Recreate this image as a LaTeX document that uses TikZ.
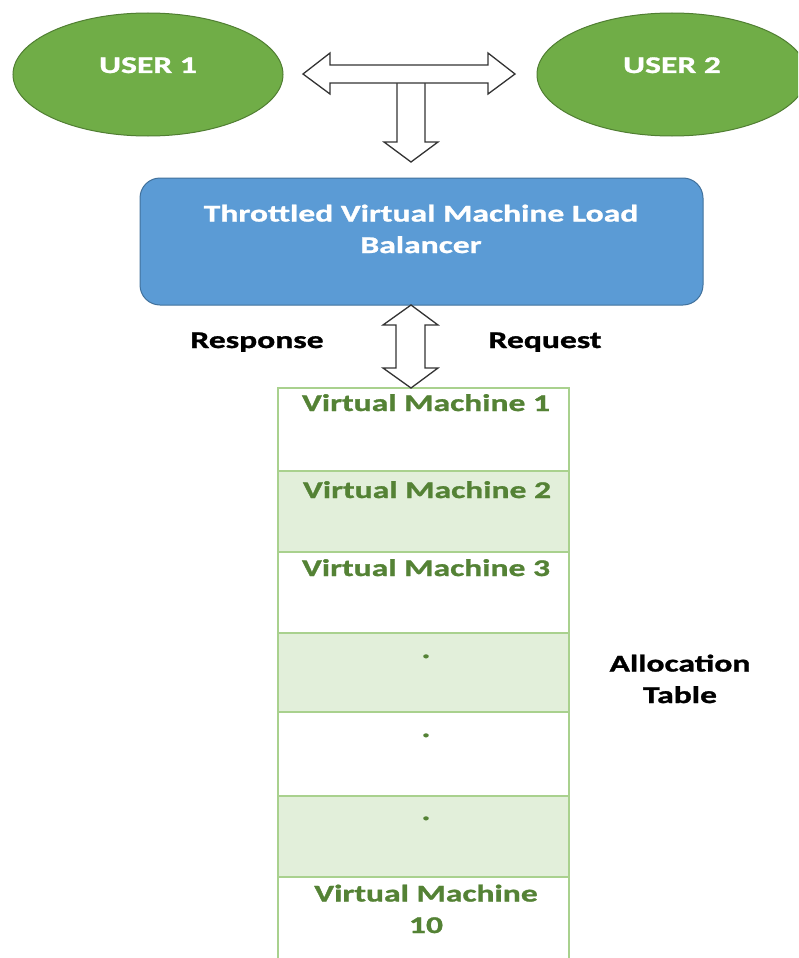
\documentclass[tikz,border=0pt]{standalone}
\usepackage{fontspec}
\newfontfamily\lbl{Carlito}[FakeStretch=1.4,FakeBold=1.2]
\usetikzlibrary{shapes.geometric}
\definecolor{usergreen}{HTML}{70AD47}
\definecolor{userborder}{HTML}{507E32}
\definecolor{lbblue}{HTML}{5B9BD5}
\definecolor{lbborder}{HTML}{41719C}
\definecolor{vmtext}{HTML}{548235}
\definecolor{vmborder}{HTML}{A9D18E}
\definecolor{vmfill}{HTML}{E2EFDA}
\definecolor{arrowline}{HTML}{333333}
\begin{document}
\begin{tikzpicture}[x=1pt,y=-1pt,
 txt/.style={font=\lbl\bfseries\fontsize{24}{31.5}\selectfont, inner sep=0pt, align=center},
 user/.style={ellipse, draw=userborder, line width=1pt, fill=usergreen, minimum width=270pt, minimum height=123pt, txt, text=white, text height=16pt, text depth=19pt},
 lbbox/.style={draw=lbborder, fill=lbblue, line width=1pt, rounded corners=20pt, minimum width=563pt, minimum height=127pt},
 row/.style={draw=vmborder, line width=2pt, minimum width=291pt, inner sep=0pt},
 shaded/.style={fill=vmfill},
 vm/.style={txt, text=vmtext, anchor=base},
 plain/.style={txt, text=black, anchor=base},
 blockarrow/.style={draw=arrowline, fill=white, line width=1.3pt, line join=miter},
]
\useasboundingbox (0,0) rectangle (798,958);
\clip (0,0) rectangle (798,958);

% users
\node[user] (u1) at (148,74.5) {USER 1};
\node[user] (u2) at (672,74.5) {USER 2};

% T-shaped block arrow
\draw[blockarrow] (397,80) -- (397,142) -- (384,142) -- (411,162) -- (438,142) -- (425,142) -- (425,80) -- cycle;
\draw[blockarrow] (303,74) -- (330,53) -- (330,65) -- (488,65) -- (488,53) -- (515,74) -- (488,94) -- (488,83) -- (330,83) -- (330,94) -- cycle;

% load balancer
\node[lbbox] (lb) at (421.5,241.5) {};
\node[txt, text=white, anchor=base] (lbt) at (421,253) {Throttled Virtual Machine Load\\Balancer};

% labels
\node[plain] (resp) at (257,348) {Response};
\node[plain] (req) at (545,348) {Request};

% allocation table rows
\node[row, minimum height=83pt] (r1) at (423.5,429.5) {};
\node[row, shaded, minimum height=81pt] (r2) at (423.5,511.5) {};
\node[row, minimum height=81pt] (r3) at (423.5,592.5) {};
\node[row, shaded, minimum height=79pt] (r4) at (423.5,672.5) {};
\node[row, minimum height=84pt] (r5) at (423.5,754) {};
\node[row, shaded, minimum height=81pt] (r6) at (423.5,836.5) {};
\node[row, minimum height=85pt] (r7) at (423.5,919.5) {};

\node[vm] (t1) at (426,411) {Virtual Machine 1};
\node[vm] (t2) at (427,498) {Virtual Machine 2};
\node[vm] (t3) at (426,576) {Virtual Machine 3};
\node[vm] (t4) at (426,658) {.};
\node[vm] (t5) at (426,737) {.};
\node[vm] (t6) at (426,820) {.};
\node[vm] (t7) at (426,933) {Virtual Machine\\10};

\node[plain] (alloc) at (680,703) {Allocation\\Table};

% request/response double arrow
\draw[blockarrow] (411,305) -- (438,325) -- (425,325) -- (425,368) -- (438,368) -- (411,388) -- (383,368) -- (396,368) -- (396,325) -- (383,325) -- cycle;
\end{tikzpicture}
\end{document}
